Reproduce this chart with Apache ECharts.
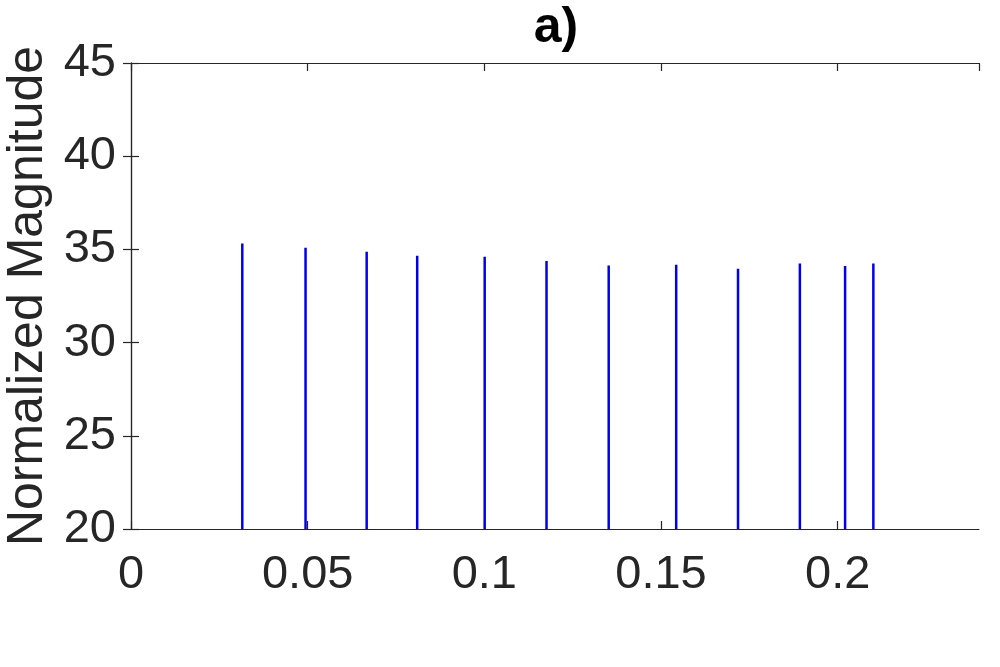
<!DOCTYPE html>
<html>
<head>
<meta charset="utf-8">
<script src="https://cdn.jsdelivr.net/npm/echarts@6/dist/echarts.min.js"></script>
<style>
  html, body { margin: 0; padding: 0; background: #fff; }
  #chart { width: 1000px; height: 667px; }
</style>
</head>
<body>
<div id="chart"></div>
<script>
// stem positions (normalized frequency) and peak heights
const freqs = [0.0315, 0.0494, 0.0667, 0.0810, 0.1001, 0.1176, 0.1352, 0.1543, 0.1718, 0.1893, 0.2021, 0.2101];
const mags  = [35.31, 35.09, 34.88, 34.66, 34.61, 34.38, 34.13, 34.18, 33.96, 34.25, 34.11, 34.25];

const xMin = 0, xMax = 0.24, xStep = 0.05;
const yMin = 20, yMax = 45, yStep = 5;

const axisColor = '#262626';
const font = 'Liberation Sans, Arial, sans-serif';

let chart = echarts.init(document.getElementById('chart'));

const boxAxis = {
  axisLine: { show: true, lineStyle: { color: axisColor, width: 1.2 } },
  axisTick: { show: true, inside: true, length: 8, lineStyle: { color: axisColor, width: 1.2 } },
  axisLabel: { show: false },
  splitLine: { show: false }
};

chart.setOption({
  animation: false,
  backgroundColor: '#fff',
  title: {
    text: 'a)',
    left: 551,
    textAlign: 'center',
    top: -2,
    textStyle: { fontFamily: font, fontSize: 50, fontWeight: 'bold', color: '#000' }
  },
  grid: { left: 131, right: 21, top: 63, bottom: 138, containLabel: false, outerBoundsMode: 'none' },
  xAxis: [
    Object.assign({}, boxAxis, {
      type: 'value', min: xMin, max: xMax, interval: xStep, position: 'bottom',
      axisLabel: {
        show: true, margin: 23, color: axisColor, fontFamily: font, fontSize: 47,
        showMaxLabel: false,
        formatter: v => (Math.abs(v - xMax) < 1e-9 ? '' : String(+v.toFixed(2)))
      }
    }),
    Object.assign({}, boxAxis, {
      type: 'value', min: xMin, max: xMax, interval: xStep, position: 'top'
    })
  ],
  yAxis: [
    Object.assign({}, boxAxis, {
      type: 'value', min: yMin, max: yMax, interval: yStep, position: 'left',
      name: 'Normalized Magnitude',
      nameLocation: 'middle',
      nameGap: 68,
      nameTextStyle: { fontFamily: font, fontSize: 50, color: axisColor },
      axisLabel: { show: true, margin: 15, color: axisColor, fontFamily: font, fontSize: 47 }
    }),
    Object.assign({}, boxAxis, {
      type: 'value', min: yMin, max: yMax, interval: yStep, position: 'right'
    })
  ],
  series: [{
    type: 'bar',
    xAxisIndex: 0,
    yAxisIndex: 0,
    barWidth: 2.5,
    clip: true,
    itemStyle: { color: '#0000ee' },
    data: freqs.map((f, i) => [f, mags[i]])
  }]
});
</script>
</body>
</html>
